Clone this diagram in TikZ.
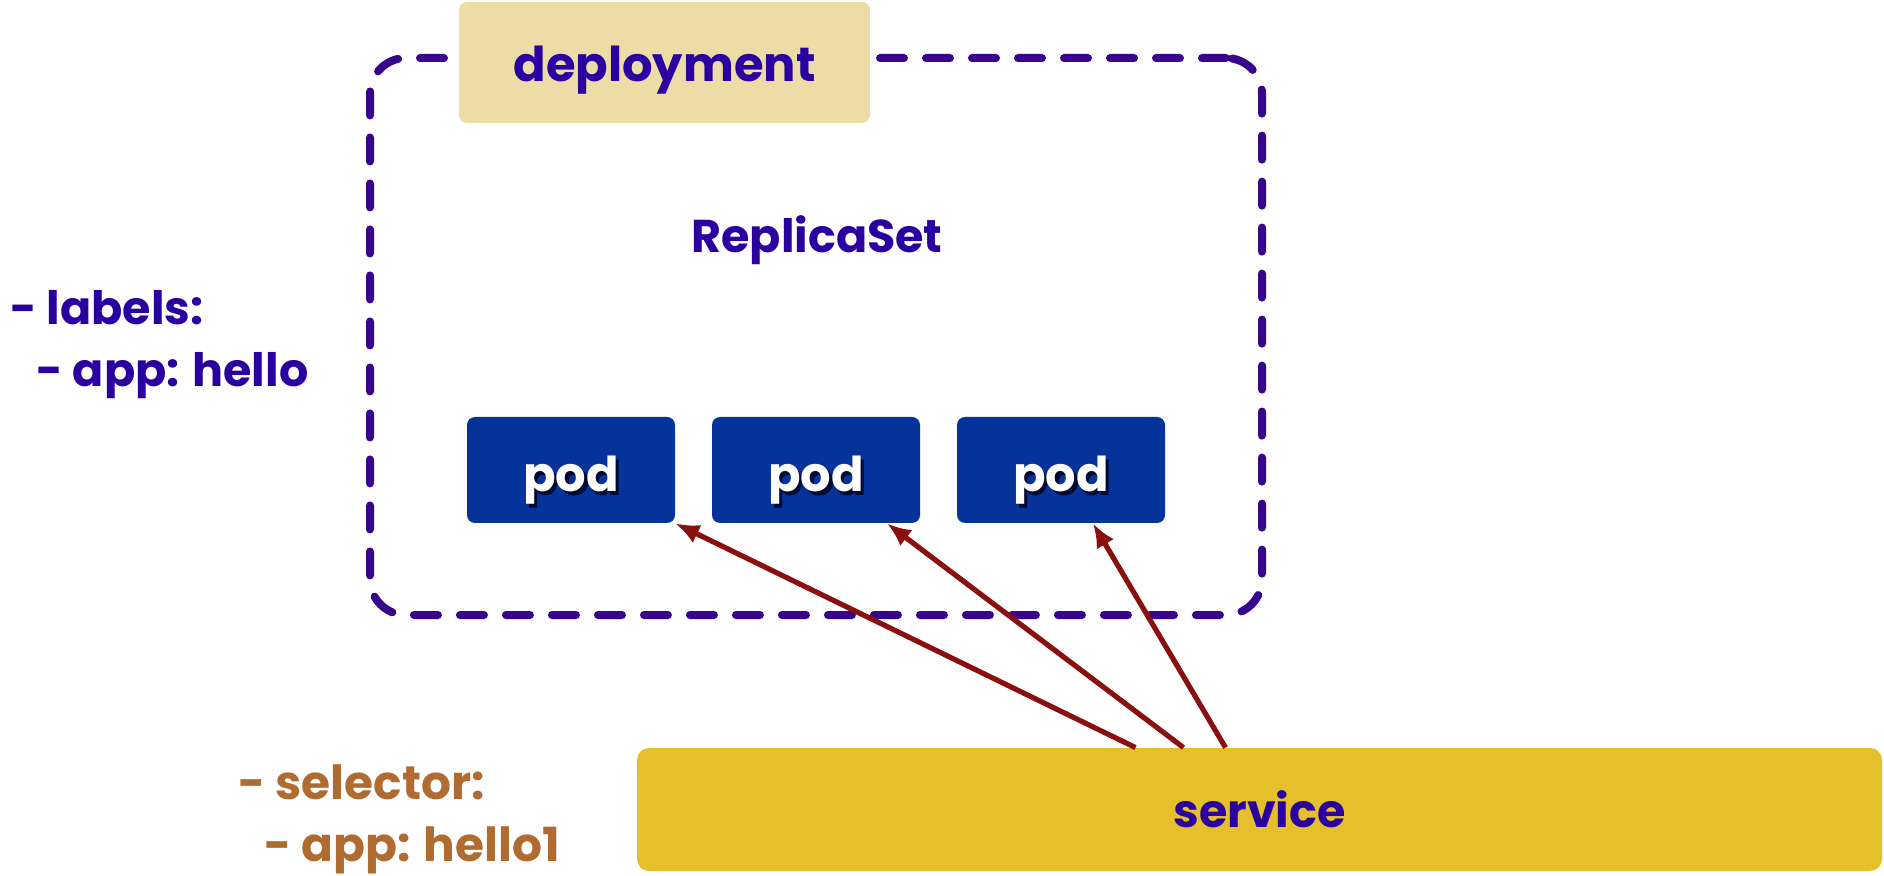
\documentclass[tikz,border=0pt]{standalone}
\usepackage{fontspec}
\setmainfont{Poppins}
\usetikzlibrary{arrows.meta,calc,positioning}
\definecolor{kpurple}{RGB}{42,0,160}
\definecolor{kborder}{RGB}{56,4,140}
\definecolor{depfill}{RGB}{235,221,165}
\definecolor{podfill}{RGB}{5,51,154}
\definecolor{podshadow}{RGB}{0,10,50}
\definecolor{svcfill}{RGB}{230,191,44}
\definecolor{arrowred}{RGB}{138,16,16}
\definecolor{selbrown}{RGB}{176,107,48}
\newcommand{\shadowtext}[1]{\rlap{\color{podshadow}\hspace{1.8pt}\raisebox{-1.8pt}{#1}}#1}
\tikzset{rsbox/.style={
            draw=kborder,
            line width=4pt,
            dash pattern=on 12pt off 11pt,
            line cap=round,
            rounded corners=18pt,
            minimum width=446pt,
            minimum height=278.5pt
        },
        depbox/.style={
            fill=depfill,
            rounded corners=4pt,
            minimum width=205.5pt,
            minimum height=60.5pt,
            text height=19.5pt,
            text depth=0pt,
            text=kpurple,
            font=\fontsize{24}{28}\selectfont\bfseries
        },
        podbox/.style={
            fill=podfill,
            rounded corners=4pt,
            minimum width=104pt,
            minimum height=53pt,
            text height=22pt,
            text depth=0pt,
            text=white,
            font=\fontsize{24}{28}\selectfont\bfseries
        },
        svcbox/.style={
            fill=svcfill,
            rounded corners=6pt,
            minimum width=622.5pt,
            minimum height=61.5pt,
            text=kpurple,
            font=\fontsize{23}{28}\selectfont\bfseries
        },
        sidetext/.style={
            anchor=west,
            align=left,
            inner sep=0pt,
            font=\fontsize{23}{31}\selectfont\bfseries
        },
        link/.style={
            draw=arrowred,
            line width=2.6pt,
            -{Latex[length=12pt,width=10pt]}
        }
    }
\begin{document}
\begin{tikzpicture}[x=0.5pt,y=-0.5pt]
    \useasboundingbox (0,0) rectangle (1884,876);
    \node[rsbox] at (816,336.5) (rs) {};
    \node[depbox] at (664.5,62.5) (deployment) {deployment};
    \node[text=kpurple,font=\fontsize{23}{28}\selectfont\bfseries] at (817,240) (rslabel) {ReplicaSet};
    \node[podbox] at (571,470) (pod1) {\shadowtext{pod}};
    \node[podbox] at (816,470) (pod2) {\shadowtext{pod}};
    \node[podbox] at (1061,470) (pod3) {\shadowtext{pod}};
    \node[sidetext,text=kpurple] at (10,345) (labels) {- labels:\\\hspace*{13pt}- app: hello};
    \node[sidetext,text=selbrown,font=\fontsize{23.5}{31}\selectfont\bfseries] at (238,819) (selector) {- selector:\\\hspace*{13pt}- app: hello1};
    \node[svcbox] at (1259.5,809.5) (service) {service};
    \draw[link] ([xshift=-62pt]service.north) -- (pod1.south east);
    \draw[link] ([xshift=-38pt]service.north) -- ([xshift=35.5pt]pod2.south);
    \draw[link] ([xshift=-17pt]service.north) -- ([xshift=16pt]pod3.south);
\end{tikzpicture}
\end{document}
